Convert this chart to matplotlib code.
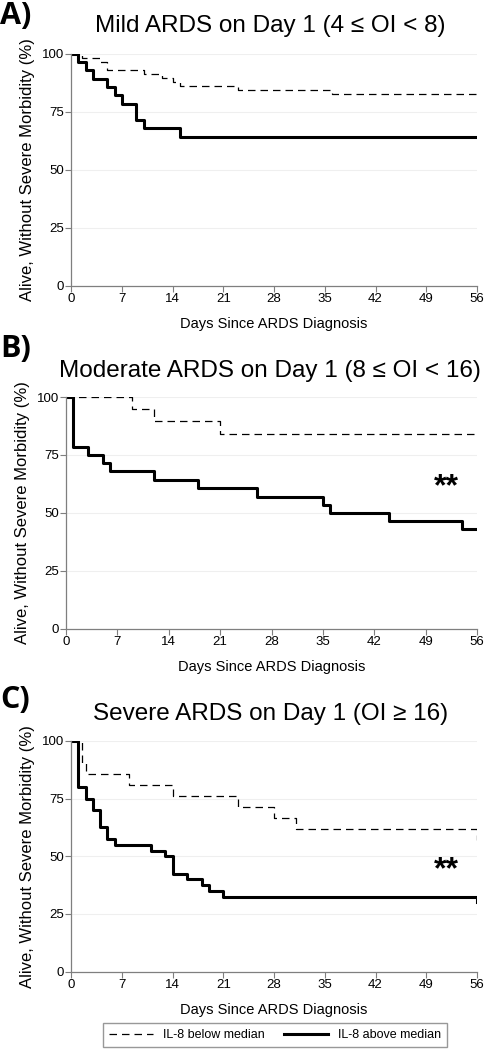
import matplotlib.pyplot as plt
import numpy as np

plt.rcParams['font.family'] = ['Liberation Sans', 'DejaVu Sans']

# Panel titles and tags
tags = ['A)', 'B)', 'C)']
titles = ['Mild ARDS on Day 1 (4 \u2264 OI < 8)',
          'Moderate ARDS on Day 1 (8 \u2264 OI < 16)',
          'Severe ARDS on Day 1 (OI \u2265 16)']
stars = ['', '**', '**']

# Kaplan-Meier steps (days, % alive without severe morbidity)
a_below_t = [0, 1.5, 4, 5, 10, 12.5, 14, 15, 23, 36, 56]
a_below_s = [100, 98.3, 96.6, 93.1, 91.4, 89.7, 87.9, 86.2, 84.5, 82.8, 81.5]
a_above_t = [0, 1, 2, 3, 5, 6, 7, 9, 10, 15, 56]
a_above_s = [100, 96.4, 92.9, 89.3, 85.7, 82.1, 78.6, 71.4, 67.9, 64.3, 64.3]

b_below_t = [0, 9, 12, 21, 56]
b_below_s = [100, 94.7, 89.5, 84.2, 84.2]
b_above_t = [0, 1, 3, 5, 6, 12, 18, 26, 35, 36, 44, 54, 56]
b_above_s = [100, 78.6, 75.0, 71.4, 67.9, 64.3, 60.7, 57.1, 53.6, 50.0, 46.4, 42.9, 42.9]

c_below_t = [0, 1.5, 2, 8, 14, 23, 28, 31, 56]
c_below_s = [100, 90.5, 85.7, 81.0, 76.2, 71.4, 66.7, 61.9, 57.1]
c_above_t = [0, 1, 2, 3, 4, 5, 6, 11, 13, 14, 16, 18, 19, 21, 56]
c_above_s = [100, 80, 75, 70, 62.5, 57.5, 55, 52.5, 50, 42.5, 40, 37.5, 35, 32.5, 30]

below = [(a_below_t, a_below_s), (b_below_t, b_below_s), (c_below_t, c_below_s)]
above = [(a_above_t, a_above_s), (b_above_t, b_above_s), (c_above_t, c_above_s)]

xticks = np.arange(0, 57, 7)
yticks = [0, 25, 50, 75, 100]

fig = plt.figure(figsize=(4.86, 10.5), dpi=100)

# axes boxes in figure fractions [left, bottom, width, height]
boxes = [[0.1461, 0.7279, 0.8354, 0.2207],
         [0.1358, 0.4010, 0.8457, 0.2209],
         [0.1461, 0.0746, 0.8354, 0.2197]]
title_y = [1 - 26 / 1050, 1 - 371 / 1050, 1 - 714 / 1050]
tag_y = [1 - 16 / 1050, 1 - 349 / 1050, 1 - 700 / 1050]
star_y = [None, 61, 44]

gray = '#7f7f7f'
for i in range(3):
    ax = fig.add_axes(boxes[i])
    for yv in yticks[1:]:
        ax.axhline(yv, color='#efefef', lw=0.8, zorder=0)
    t, s = below[i]
    ax.step(t, s, where='post', color='black', lw=0.9, ls=(0, (6, 4)), label='IL-8 below median')
    t, s = above[i]
    ax.step(t, s, where='post', color='black', lw=2.2, label='IL-8 above median')

    ax.set_xlim(0, 56)
    ax.set_ylim(0, 100)
    ax.set_xticks(xticks)
    ax.set_yticks(yticks)
    ax.tick_params(axis='both', colors=gray, labelcolor='black', labelsize=9.5,
                   length=4, width=0.8, pad=1)
    for side in ['top', 'right']:
        ax.spines[side].set_visible(False)
    for side in ['left', 'bottom']:
        ax.spines[side].set_color(gray)
        ax.spines[side].set_linewidth(0.9)
    ax.set_xlabel('Days Since ARDS Diagnosis', fontsize=10.5, labelpad=9)
    ax.set_ylabel('Alive, Without Severe Morbidity (%)', fontsize=12, labelpad=5)

    fig.text(0.556, title_y[i], titles[i], fontsize=17.5, ha='center', va='center')
    fig.text(0.0, tag_y[i], tags[i], fontsize=22, fontweight='bold',
             family='Open Sans', ha='left', va='center')
    if stars[i]:
        ax.text(51.8, star_y[i], stars[i], fontsize=23, fontweight='bold',
                ha='center', va='center')
    if i == 0:
        handles, labels = ax.get_legend_handles_labels()

fig.legend(handles, labels, loc='center', bbox_to_anchor=(275 / 486, 1 - 1035 / 1050),
           ncol=2, fontsize=9, frameon=True, fancybox=False, edgecolor=gray,
           handlelength=3.5, columnspacing=1.6, borderpad=0.45)

fig.savefig('out.png', dpi=100)
